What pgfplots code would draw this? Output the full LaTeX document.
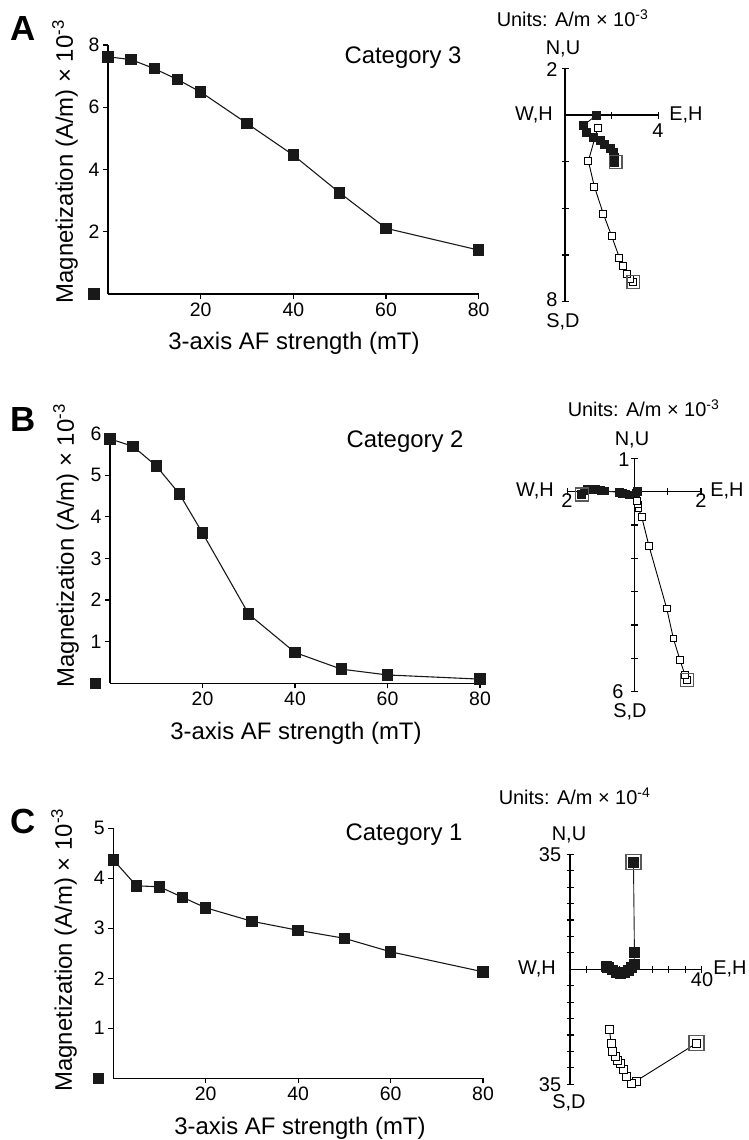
\documentclass[border=0pt]{standalone}
\usepackage{fontspec}
\setmainfont{Liberation Sans}
\usepackage{pgfplots}
\pgfplotsset{compat=1.18}

\newcommand\lbl{\fontsize{20}{22}\selectfont}
\newcommand\lab{\fontsize{24}{26}\selectfont}

\pgfplotsset{
  decay/.style={scale only axis, enlargelimits=false, clip=false, anchor=south west,
    axis x line=bottom, axis y line=left, axis line style={-, line width=1.1pt},
    xmin=0, xmax=80, xtick={20,40,60,80}, tick align=outside, major tick length=5bp,
    tick style={line width=1.1pt, black},
    tick label style={font=\fontsize{19.5}{21}\selectfont},
    /pgf/number format/assume math mode=true},
  zij/.style={scale only axis, enlargelimits=false, clip=false, anchor=south west,
    axis lines=center, axis line style={-, line width=1.1pt},
    tick align=center, major tick length=7bp, tick style={line width=1.1pt, black},
    xticklabels={}, yticklabels={}},
  dec/.style={black!90, line width=1.1pt, mark=square*, mark size=5.2,
    mark options={solid, fill=black!90}},
  hz/.style={black!90, line width=0.9pt, mark=square*, mark size=#1,
    mark options={solid, fill=black!90}},
  vt/.style={black, line width=0.9pt, mark=square*, mark size=#1,
    mark options={solid, fill=white, draw=black}},
  last/.style={only marks, mark=square, mark size=#1,
    mark options={draw=black!65, line width=1.3pt}},
}

\begin{document}
\begin{tikzpicture}[x=1bp,y=1bp]
\useasboundingbox (0,0) rectangle (749,1140);

% ---------- A ----------
\begin{axis}[decay, at={(108bp,846bp)}, width=370.7bp, height=249bp,
  ymin=0, ymax=8, ytick={2,4,6,8}]
\addplot[dec] coordinates {(0,7.62) (5,7.53) (10,7.24) (15,6.89) (20,6.49)
  (30,5.48) (40,4.46) (50,3.25) (60,2.11) (80,1.41)};
\addplot[dec, only marks] coordinates {(-3,0)};
\end{axis}

\begin{axis}[zij, at={(565bp,838.3bp)}, width=93.3bp, height=233.3bp,
  xmin=0, xmax=4, ymin=-8, ymax=2, xtick={2,4}, ytick={-8,-6,-4,-2,2}]
\addplot[hz=4] coordinates {(2.14,-2.04) (2.14,-1.83) (2.07,-1.61) (1.93,-1.44)
  (1.71,-1.26) (1.5,-1.11) (1.21,-0.97) (0.93,-0.75) (0.79,-0.44) (1.36,0)};
\addplot[vt=3.5] coordinates {(2.93,-7.16) (2.79,-7.04) (2.64,-6.83) (2.47,-6.47)
  (2.33,-6.11) (2.0,-5.19) (1.64,-4.23) (1.26,-3.07) (1.0,-1.97) (1.4,-0.57)};
\addplot[last=6.5] coordinates {(2.17,-2.0) (2.93,-7.16)};
\end{axis}

% ---------- B ----------
\begin{axis}[decay, at={(110bp,456.7bp)}, width=370bp, height=249.8bp,
  ymin=0, ymax=6, ytick={1,2,3,4,5,6}]
\addplot[dec] coordinates {(0,5.87) (5,5.69) (10,5.22) (15,4.55) (20,3.61)
  (30,1.66) (40,0.74) (50,0.34) (60,0.2) (80,0.1)};
\addplot[dec, only marks] coordinates {(-3.1,0)};
\end{axis}

\begin{axis}[zij, at={(567.7bp,448.3bp)}, width=133.3bp, height=233.3bp,
  xmin=-2, xmax=2, ymin=-6, ymax=1, xtick={-2,-1,1,2}, ytick={-6,-5,-4,-3,-2,-1,1}]
\addplot[hz=3.8] coordinates {(-1.58,-0.08) (-1.5,0.02) (-1.4,0.06) (-1.28,0.07)
  (-1.15,0.06) (-1.0,0.04) (-0.88,0.02) (-0.45,-0.02) (-0.35,-0.05) (-0.25,-0.07)
  (-0.15,-0.1) (-0.05,-0.1) (0.05,-0.05) (0.1,0)};
\addplot[vt=3.3] coordinates {(1.57,-5.65) (1.52,-5.5) (1.37,-5.05) (1.17,-4.4)
  (0.97,-3.5) (0.44,-1.63) (0.22,-0.75) (0.12,-0.5) (0.1,-0.38) (0.07,-0.28)};
\addplot[last=6.5] coordinates {(-1.58,-0.08) (1.57,-5.65)};
\end{axis}

% ---------- C ----------
\begin{axis}[decay, at={(113.3bp,61.7bp)}, width=369.7bp, height=250bp,
  ymin=0, ymax=5, ytick={1,2,3,4,5}]
\addplot[dec] coordinates {(0,4.37) (5,3.85) (10,3.83) (15,3.62) (20,3.41)
  (30,3.14) (40,2.96) (50,2.8) (60,2.53) (80,2.13)};
\addplot[dec, only marks] coordinates {(-3.2,0)};
\end{axis}

\begin{axis}[zij, at={(570bp,55.7bp)}, width=131.5bp, height=230bp,
  xmin=0, xmax=40, ymin=-35, ymax=35, xtick={5,10,15,20,25,30,35,40},
  ytick={-35,-30,-25,-20,-15,-10,-5,5,10,15,20,25,30,35}]
\addplot[hz=5] coordinates {(19.3,32.6) (19.6,5.05) (19.5,1.5) (18.8,0.5)
  (17.8,-0.3) (16.5,-0.9) (15.2,-1.2) (14.0,-0.9) (12.8,-0.2) (11.8,0.6) (11.0,1.0)};
\addplot[vt=4] coordinates {(38.5,-22.5) (20.1,-34.0) (18.6,-34.7) (17.2,-32.5)
  (16.2,-30.6) (15.4,-28.6) (14.4,-27.6) (13.7,-26.6) (13.0,-25.1) (12.5,-22.5) (12.0,-18.3)};
\addplot[last=7.5] coordinates {(19.3,32.6) (38.5,-22.5)};
\end{axis}

% ---------- text ----------
\begin{scope}[every node/.style={inner sep=0pt}]
\node[font=\fontsize{35}{36}\selectfont\bfseries] at (23,1111) {A};
\node[font=\fontsize{35}{36}\selectfont\bfseries] at (23,720) {B};
\node[font=\fontsize{35}{36}\selectfont\bfseries] at (23,319) {C};

\node[font=\lab, anchor=base] at (403,1076.7) {Category 3};
\node[font=\lab, anchor=base] at (405,692.7) {Category 2};
\node[font=\lab, anchor=base] at (404,299.3) {Category 1};

\node[font=\lab, rotate=90] at (65,978.3) {Magnetization (A/m) × 10\textsuperscript{-3}};
\node[font=\lab, rotate=90] at (66,594.3) {Magnetization (A/m) × 10\textsuperscript{-3}};
\node[font=\lab, rotate=90] at (64,190) {Magnetization (A/m) × 10\textsuperscript{-3}};

\node[font=\lab, anchor=base] at (294,790) {3-axis AF strength (mT)};
\node[font=\lab, anchor=base] at (296,400.7) {3-axis AF strength (mT)};
\node[font=\lab, anchor=base] at (300,5.7) {3-axis AF strength (mT)};

% A zijderveld labels
\node[font=\lbl, anchor=base] at (572.5,1113.3) {Units: A/m × 10\textsuperscript{-3}};
\node[font=\lbl, anchor=base] at (563,1085) {N,U};
\node[font=\lbl] at (552,1070) {2};
\node[font=\lbl] at (534,1025) {W,H};
\node[font=\lbl] at (686,1025) {E,H};
\node[font=\lbl] at (658,1009) {4};
\node[font=\lbl, anchor=base] at (552,833) {8};
\node[font=\lbl, anchor=base] at (563,812.5) {S,D};

% B zijderveld labels
\node[font=\lbl, anchor=base] at (643.5,723.3) {Units: A/m × 10\textsuperscript{-3}};
\node[font=\lbl, anchor=base] at (632,694) {N,U};
\node[font=\lbl] at (624,680) {1};
\node[font=\lbl] at (535,649) {W,H};
\node[font=\lbl] at (567,639) {2};
\node[font=\lbl] at (727,649) {E,H};
\node[font=\lbl] at (701,639) {2};
\node[font=\lbl, anchor=base] at (618,441.5) {6};
\node[font=\lbl, anchor=base] at (630,422.5) {S,D};

% C zijderveld labels
\node[font=\lbl, anchor=base] at (574.5,335) {Units: A/m × 10\textsuperscript{-4}};
\node[font=\lbl, anchor=base] at (569,299) {N,U};
\node[font=\lbl] at (550,285) {35};
\node[font=\lbl] at (537,171) {W,H};
\node[font=\lbl] at (730,171) {E,H};
\node[font=\lbl] at (702,160) {40};
\node[font=\lbl, anchor=base] at (550,48) {35};
\node[font=\lbl, anchor=base] at (569,31) {S,D};
\end{scope}
\end{tikzpicture}
\end{document}
